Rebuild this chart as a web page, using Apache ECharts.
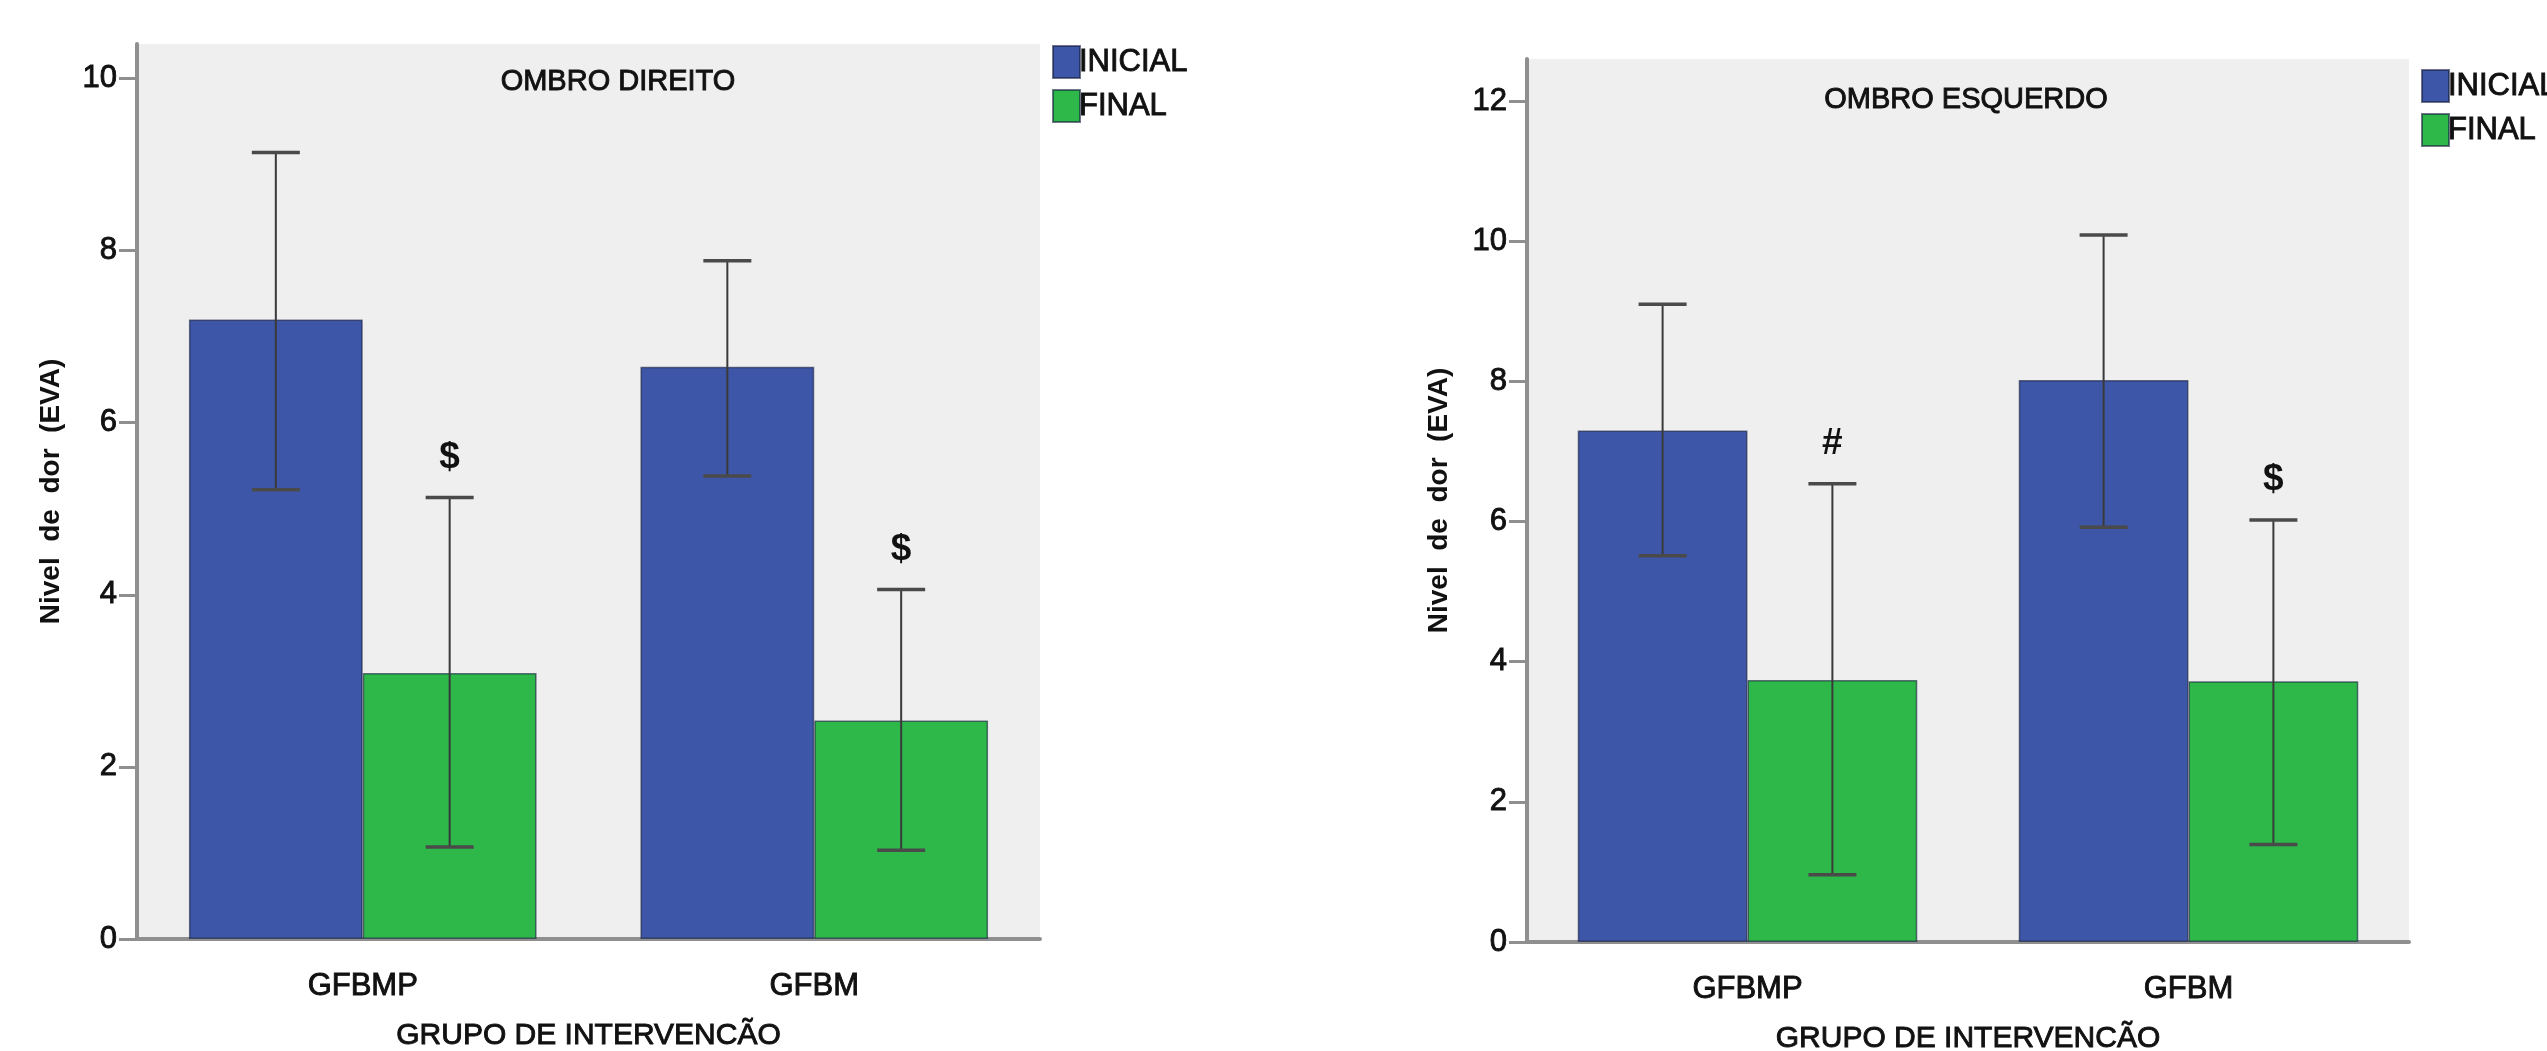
<!DOCTYPE html>
<html>
<head>
<meta charset="utf-8">
<script src="https://cdn.jsdelivr.net/npm/echarts@6/dist/echarts.min.js"></script>
<style>
  html, body { margin: 0; padding: 0; background: #fff; }
  #chart { width: 2547px; height: 1051px; }
</style>
</head>
<body>
<div id="chart"></div>
<script>
// grupos e séries
const groups = ['GFBMP', 'GFBM'];
const seriesNames = ['INICIAL', 'FINAL'];

// ombro direito (media, limite inferior, limite superior)
const direitoInicial = [7.2, 6.65];
const direitoInicialLow = [5.22, 5.38];
const direitoInicialHigh = [9.14, 7.88];
const direitoFinal = [3.09, 2.54];
const direitoFinalLow = [1.07, 1.03];
const direitoFinalHigh = [5.13, 4.06];
const direitoMarks = ['$', '$'];

// ombro esquerdo
const esquerdoInicial = [7.3, 8.02];
const esquerdoInicialLow = [5.51, 5.92];
const esquerdoInicialHigh = [9.1, 10.09];
const esquerdoFinal = [3.74, 3.72];
const esquerdoFinalLow = [0.96, 1.39];
const esquerdoFinalHigh = [6.54, 6.02];
const esquerdoMarks = ['#', '$'];

const yTicksDireito = [0, 2, 4, 6, 8, 10];
const yTicksEsquerdo = [0, 2, 4, 6, 8, 10, 12];

const FONT = "'Liberation Sans Narrow', 'Arial Narrow', 'Liberation Sans', sans-serif";
const blue = '#3e56a8';
const green = '#2eb84a';
const axisGrey = '#8f8f8f';
const textColor = '#111';
const gapPct = 0.23;
// engrossa um pouco o texto
const thick = { textBorderColor: '#111', textBorderWidth: 0.9 };

const chart = echarts.init(document.getElementById('chart'));

const errorBars = (name, low, high, side, idx) => ({
  name: name,
  type: 'custom',
  xAxisIndex: idx,
  yAxisIndex: idx,
  z: 5,
  data: low.map((v, i) => [i, v, high[i]]),
  encode: { x: 0, y: [1, 2] },
  renderItem: function (params, api) {
    const band = api.size([1, 0])[0];
    const barW = band * (1 - gapPct) / 2;
    const lo = api.coord([api.value(0), api.value(1)]);
    const hi = api.coord([api.value(0), api.value(2)]);
    const x = lo[0] + side * barW / 2;
    const cap = 24;
    return {
      type: 'group',
      children: [
        { type: 'line', shape: { x1: x, y1: lo[1], x2: x, y2: hi[1] }, style: { stroke: '#3a3a3a', lineWidth: 2 } },
        { type: 'line', shape: { x1: x - cap, y1: hi[1], x2: x + cap, y2: hi[1] }, style: { stroke: '#4a4a4a', lineWidth: 3.5 } },
        { type: 'line', shape: { x1: x - cap, y1: lo[1], x2: x + cap, y2: lo[1] }, style: { stroke: '#4a4a4a', lineWidth: 3.5 } }
      ]
    };
  }
});

const marks = (high, texts, idx) => ({
  name: 'sig' + idx,
  type: 'custom',
  xAxisIndex: idx,
  yAxisIndex: idx,
  z: 6,
  data: high.map((v, i) => [i, v]),
  encode: { x: 0, y: 1 },
  renderItem: function (params, api) {
    const band = api.size([1, 0])[0];
    const barW = band * (1 - gapPct) / 2;
    const p = api.coord([api.value(0), api.value(1)]);
    return {
      type: 'text',
      style: {
        x: p[0] + barW / 2, y: p[1] - 40,
        text: texts[params.dataIndex],
        align: 'center', verticalAlign: 'middle',
        font: 'bold 37px ' + FONT, fill: '#111'
      }
    };
  }
});

const bars = (name, data, color, idx) => ({
  name: name,
  type: 'bar',
  xAxisIndex: idx,
  yAxisIndex: idx,
  data: data,
  barGap: '0%',
  barCategoryGap: (gapPct * 100) + '%',
  itemStyle: { color: color, borderColor: 'rgba(20,30,60,0.6)', borderWidth: 1.5 }
});

const xAxis = (idx) => ({
  type: 'category',
  gridIndex: idx,
  data: groups,
  name: 'GRUPO DE INTERVENCÃO',
  nameLocation: 'middle',
  nameGap: 82,
  nameTextStyle: Object.assign({ fontFamily: FONT, fontSize: 30, color: textColor }, thick),
  axisLine: { lineStyle: { color: axisGrey, width: 4 } },
  axisTick: { alignWithLabel: true, length: 24, lineStyle: { color: '#333', width: 2 } },
  axisLabel: Object.assign({ fontFamily: FONT, fontSize: 31, color: textColor, margin: 32 }, thick)
});

const yAxis = (idx, max, ticks, gap) => ({
  type: 'value',
  gridIndex: idx,
  min: 0,
  max: max,
  interval: 2,
  name: 'Nivel  de  dor  (EVA)',
  nameLocation: 'middle',
  nameRotate: 90,
  nameGap: gap,
  nameTextStyle: { fontFamily: FONT, fontSize: 28, fontWeight: 'bold', color: textColor },
  axisLine: { show: true, lineStyle: { color: axisGrey, width: 4 } },
  axisTick: { show: true, length: 18, customValues: ticks, lineStyle: { color: axisGrey, width: 3 } },
  axisLabel: Object.assign({ fontFamily: FONT, fontSize: 31, color: textColor, margin: 20, customValues: ticks }, thick),
  splitLine: { show: false }
});

const legend = (left, top) => ({
  left: left,
  top: top,
  orient: 'vertical',
  data: seriesNames,
  icon: 'rect',
  itemWidth: 27,
  itemHeight: 32,
  itemGap: 10,
  textStyle: Object.assign({ fontFamily: FONT, fontSize: 31, color: textColor, padding: [0, 0, 0, -6] }, thick),
  selectedMode: false
});

const option = {
  backgroundColor: '#fff',
  animation: false,
  title: [
    { text: 'OMBRO DIREITO', left: 613, top: 62, textAlign: 'center',
      textStyle: Object.assign({ fontFamily: FONT, fontSize: 29, fontWeight: 'normal', color: textColor }, thick) },
    { text: 'OMBRO ESQUERDO', left: 1961, top: 80, textAlign: 'center',
      textStyle: Object.assign({ fontFamily: FONT, fontSize: 29, fontWeight: 'normal', color: textColor }, thick) }
  ],
  legend: [legend(1047, 40), legend(2416, 64)],
  grid: [
    { left: 137, right: 1507, top: 44, bottom: 112, outerBoundsMode: 'none', show: true, backgroundColor: '#efefef', borderWidth: 0 },
    { left: 1527, right: 138, top: 59, bottom: 109, outerBoundsMode: 'none', show: true, backgroundColor: '#efefef', borderWidth: 0 }
  ],
  xAxis: [xAxis(0), xAxis(1)],
  yAxis: [yAxis(0, 10.4, yTicksDireito, 72), yAxis(1, 12.6, yTicksEsquerdo, 74)],
  series: [
    bars('INICIAL', direitoInicial, blue, 0),
    bars('FINAL', direitoFinal, green, 0),
    errorBars('errDI', direitoInicialLow, direitoInicialHigh, -1, 0),
    errorBars('errDF', direitoFinalLow, direitoFinalHigh, 1, 0),
    marks(direitoFinalHigh, direitoMarks, 0),
    bars('INICIAL', esquerdoInicial, blue, 1),
    bars('FINAL', esquerdoFinal, green, 1),
    errorBars('errEI', esquerdoInicialLow, esquerdoInicialHigh, -1, 1),
    errorBars('errEF', esquerdoFinalLow, esquerdoFinalHigh, 1, 1),
    marks(esquerdoFinalHigh, esquerdoMarks, 1)
  ]
};

chart.setOption(option);
</script>
</body>
</html>
